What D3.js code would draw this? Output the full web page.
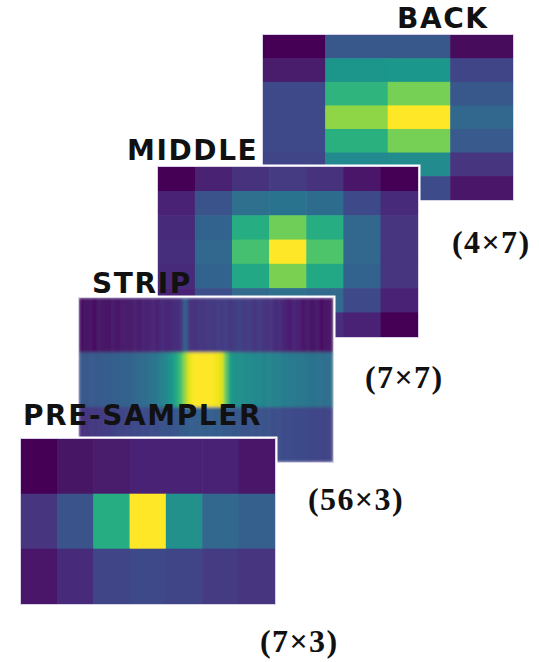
<!DOCTYPE html>
<html>
<head>
<meta charset="utf-8">
<script src="https://cdn.jsdelivr.net/npm/d3@7"></script>
<style>
  body { margin: 0; background: #fff; }
  svg { display: block; }
</style>
</head>
<body>
<div id="chart"></div>
<script>
// layer names and their grid sizes (cols x rows)
var layerNames = ["BACK", "MIDDLE", "STRIP", "PRE-SAMPLER"];
var gridLabels = ["(4\u00d77)", "(7\u00d77)", "(56\u00d73)", "(7\u00d73)"];

// normalised energy per cell, row by row (0 = lowest, 1 = highest)
var backValues = [
    [0.00, 0.27, 0.27, 0.02],
    [0.07, 0.52, 0.53, 0.20],
    [0.22, 0.65, 0.79, 0.27],
    [0.22, 0.83, 1.00, 0.33],
    [0.22, 0.63, 0.79, 0.28],
    [0.20, 0.47, 0.48, 0.15],
    [0.06, 0.25, 0.23, 0.06]
];

var middleValues = [
    [0.00, 0.09, 0.14, 0.17, 0.14, 0.06, 0.00],
    [0.10, 0.25, 0.36, 0.38, 0.35, 0.22, 0.12],
    [0.12, 0.32, 0.62, 0.78, 0.62, 0.33, 0.15],
    [0.13, 0.33, 0.70, 1.00, 0.72, 0.33, 0.15],
    [0.12, 0.32, 0.60, 0.80, 0.60, 0.32, 0.15],
    [0.10, 0.24, 0.34, 0.36, 0.34, 0.22, 0.10],
    [0.02, 0.09, 0.13, 0.15, 0.13, 0.10, 0.00]
];

var stripValues = [
    [0.04, 0.05, 0.06, 0.04, 0.07, 0.06, 0.05, 0.08, 0.06, 0.07,
     0.08, 0.07, 0.09, 0.08, 0.10, 0.09, 0.11, 0.10, 0.12, 0.11,
     0.12, 0.13, 0.14, 0.32, 0.15, 0.14, 0.16, 0.15, 0.17, 0.16,
     0.18, 0.17, 0.19, 0.16, 0.18, 0.20, 0.17, 0.19, 0.15, 0.17,
     0.16, 0.14, 0.15, 0.12, 0.13, 0.10, 0.08, 0.11, 0.09, 0.06,
     0.08, 0.05, 0.07, 0.04, 0.06, 0.05],
    [0.27, 0.27, 0.28, 0.28, 0.28, 0.29, 0.29, 0.30, 0.30, 0.31,
     0.31, 0.32, 0.33, 0.34, 0.35, 0.37, 0.39, 0.41, 0.44, 0.48,
     0.53, 0.60, 0.70, 0.85, 0.97, 1.00, 1.00, 1.00, 1.00, 1.00,
     0.98, 0.95, 0.75, 0.55, 0.50, 0.50, 0.49, 0.48, 0.47, 0.47,
     0.46, 0.45, 0.45, 0.44, 0.43, 0.42, 0.42, 0.41, 0.40, 0.40,
     0.39, 0.38, 0.38, 0.37, 0.36, 0.36],
    [0.14, 0.15, 0.16, 0.16, 0.17, 0.18, 0.18, 0.19, 0.20, 0.20,
     0.21, 0.21, 0.22, 0.22, 0.23, 0.23, 0.24, 0.24, 0.25, 0.25,
     0.26, 0.27, 0.28, 0.29, 0.30, 0.30, 0.30, 0.30, 0.30, 0.30,
     0.29, 0.29, 0.28, 0.28, 0.27, 0.27, 0.26, 0.26, 0.26, 0.25,
     0.25, 0.25, 0.24, 0.24, 0.24, 0.23, 0.23, 0.23, 0.22, 0.22,
     0.22, 0.21, 0.21, 0.20, 0.20, 0.20]
];

var presamplerValues = [
    [0.00, 0.05, 0.07, 0.10, 0.10, 0.10, 0.06],
    [0.15, 0.25, 0.62, 1.00, 0.50, 0.33, 0.30],
    [0.06, 0.12, 0.20, 0.22, 0.20, 0.17, 0.15]
];

var allValues = [backValues, middleValues, stripValues, presamplerValues];

// panel placement on the page
var panelBoxes = [
    {x: 263, y: 35, w: 250, h: 165},
    {x: 158, y: 167, w: 260, h: 170},
    {x: 79, y: 298, w: 254, h: 164},
    {x: 21, y: 439, w: 254, h: 165}
];
var titlePos = [{x: 397, y: 28}, {x: 127, y: 160}, {x: 92, y: 293}, {x: 23, y: 425}];
var gridPos = [{x: 452, y: 253}, {x: 365, y: 388}, {x: 308, y: 510}, {x: 260, y: 652}];

var width = 539, height = 662;

var svg = d3.select("#chart")
    .append("svg")
    .attr("width", width)
    .attr("height", height);

var defs = svg.append("defs");
defs.append("filter").attr("id", "soft")
    .attr("x", "-2%").attr("y", "-2%").attr("width", "104%").attr("height", "104%")
    .append("feGaussianBlur").attr("stdDeviation", 0.7);
defs.append("filter").attr("id", "softer")
    .attr("x", "-2%").attr("y", "-2%").attr("width", "104%").attr("height", "104%")
    .append("feGaussianBlur").attr("stdDeviation", 1.4);

var color = d3.scaleSequential(d3.interpolateViridis).domain([0, 1]);

// later layers are drawn on top of earlier ones
allValues.forEach(function (values, k) {
    var box = panelBoxes[k];
    var nRows = values.length;
    var nCols = values[0].length;

    var x = d3.scaleBand().domain(d3.range(nCols)).range([0, box.w]);
    var y = d3.scaleBand().domain(d3.range(nRows)).range([0, box.h]);

    var g = svg.append("g")
        .attr("transform", "translate(" + box.x + "," + box.y + ")");

    // white frame round the panel
    g.append("rect")
        .attr("x", -2.5).attr("y", -2.5)
        .attr("width", box.w + 5).attr("height", box.h + 5)
        .attr("fill", "#fff");

    var cells = [];
    values.forEach(function (row, r) {
        row.forEach(function (v, c) {
            cells.push({r: r, c: c, v: v});
        });
    });

    var clipId = "clip" + k;
    defs.append("clipPath").attr("id", clipId)
        .append("rect").attr("width", box.w).attr("height", box.h);

    g.append("g")
        .attr("clip-path", "url(#" + clipId + ")")
        .append("g")
        .attr("filter", nCols > 20 ? "url(#softer)" : "url(#soft)")
        .selectAll("rect")
        .data(cells)
        .enter()
        .append("rect")
        .attr("x", function (d) { return x(d.c) - 0.3; })
        .attr("y", function (d) { return y(d.r) - 0.3; })
        .attr("width", x.bandwidth() + 0.6)
        .attr("height", y.bandwidth() + 0.6)
        .attr("fill", function (d) { return color(d.v); });

    // faint lavender edge
    g.append("rect")
        .attr("x", -0.5).attr("y", -0.5)
        .attr("width", box.w + 1).attr("height", box.h + 1)
        .attr("fill", "none")
        .attr("stroke", "#d9d2e6")
        .attr("stroke-width", 1);

    svg.append("text")
        .text(layerNames[k])
        .attr("x", titlePos[k].x)
        .attr("y", titlePos[k].y)
        .attr("font-family", "DejaVu Sans, Verdana, sans-serif")
        .attr("font-weight", "bold")
        .attr("font-size", "28px")
        .attr("letter-spacing", "1.6px")
        .attr("fill", "#111");
});

// grid size notes
svg.selectAll("text.grid")
    .data(gridLabels)
    .enter()
    .append("text")
    .attr("class", "grid")
    .text(function (d) { return d; })
    .attr("x", function (d, i) { return gridPos[i].x; })
    .attr("y", function (d, i) { return gridPos[i].y; })
    .attr("font-family", "Liberation Serif, Times New Roman, serif")
    .attr("font-weight", "bold")
    .attr("font-size", "32px")
    .attr("letter-spacing", "1.4px")
    .attr("fill", "#111");
</script>
</body>
</html>
